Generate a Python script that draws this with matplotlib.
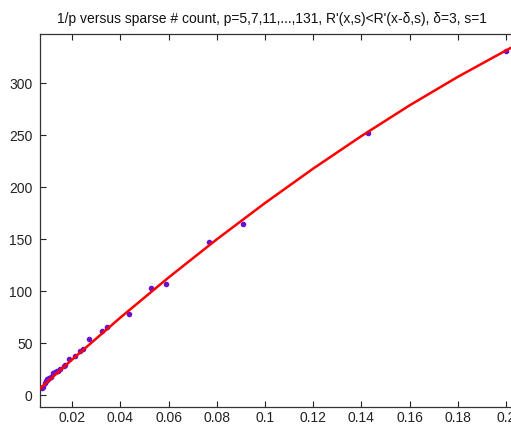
import matplotlib
matplotlib.use("Agg")
import matplotlib.pyplot as plt
import numpy as np

plt.rcParams['font.family'] = ['Liberation Sans', 'DejaVu Sans']

# data: primes p and sparse counts
primes = [5, 7, 11, 13, 17, 19, 23, 29, 31, 37, 41, 43, 47, 53, 59, 61, 67, 71, 73,
          79, 83, 89, 97, 101, 103, 107, 109, 113, 127, 131]
counts = [330, 252, 164, 147, 106, 103, 78, 65, 61, 54, 44, 42, 37, 34, 29, 28, 25, 23, 23,
          22, 21, 17, 16, 15, 15, 14, 13, 11, 7, 6]

# fitted red curve, read at several x positions
fit_x = [0.0064, 0.02, 0.04, 0.06, 0.08, 0.10, 0.12, 0.14, 0.16, 0.18, 0.20, 0.206]
fit_y = [5.5, 33.9, 74.2, 112.7, 149.4, 184.3, 217.4, 248.7, 278.2, 305.6, 331.0, 338.3]

xticks = [0.02, 0.04, 0.06, 0.08, 0.10, 0.12, 0.14, 0.16, 0.18, 0.20]
xticklabels = ['0.02', '0.04', '0.06', '0.08', '0.1', '0.12', '0.14', '0.16', '0.18', '0.2']
yticks = [0, 50, 100, 150, 200, 250, 300]

W, H = 511, 427
fig = plt.figure(figsize=(W / 100, H / 100), dpi=100)
left_px, right_px, top_px, bot_px = 39.5, 520, 35, 408
ax = fig.add_axes([left_px / W, (H - bot_px) / H, (right_px - left_px) / W, (bot_px - top_px) / H])

x = 1.0 / np.array(primes, dtype=float)
ax.plot(x, counts, '.', color='#6a10d0', markersize=6, zorder=2)
ax.plot(fit_x, fit_y, '-', color='#ff0000', linewidth=1.8, zorder=3)

ax.set_xlim(0.00643, 0.00643 + (right_px - left_px) / 2410)
ax.set_ylim(-11.8, 346.8)
ax.set_xticks(xticks)
ax.set_xticklabels(xticklabels)
ax.set_yticks(yticks)
ax.tick_params(direction='in', length=4, width=0.8, top=True, right=True,
               labelsize=10, colors='#222222')
ax.tick_params(axis='y', pad=5)
ax.tick_params(axis='x', pad=2.5)
for s in ax.spines.values():
    s.set_color('#333333')
    s.set_linewidth(0.9)

fig.text(271.5 / W, 1 - 18.5 / H,
         "1/p versus sparse # count, p=5,7,11,...,131, R'(x,s)<R'(x-\u03b4,s), \u03b4=3, s=1",
         ha='center', va='center', fontsize=10, color='#111111')

fig.savefig('out.png', dpi=100)
